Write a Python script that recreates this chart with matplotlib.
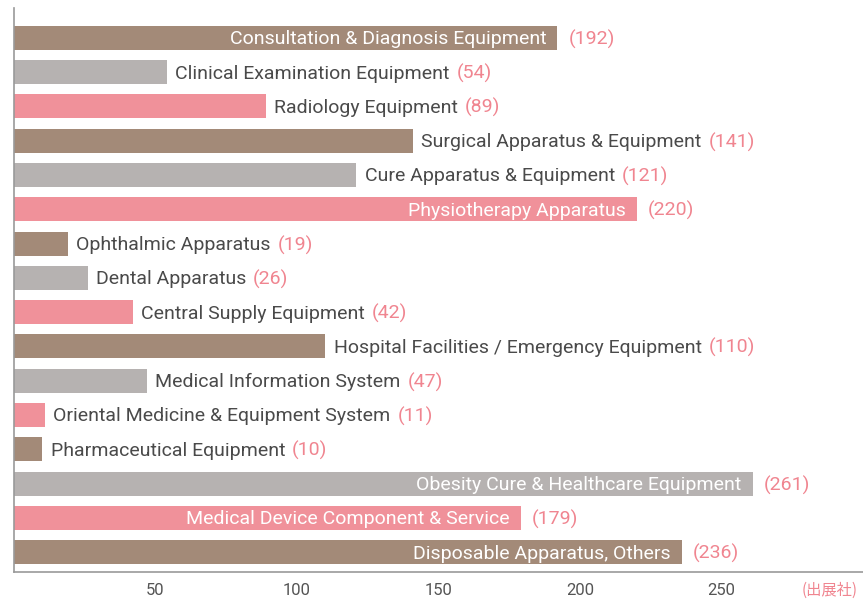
import matplotlib.pyplot as plt

categories = ['Consultation & Diagnosis Equipment', 'Clinical Examination Equipment',
              'Radiology Equipment', 'Surgical Apparatus & Equipment',
              'Cure Apparatus & Equipment', 'Physiotherapy Apparatus',
              'Ophthalmic Apparatus', 'Dental Apparatus', 'Central Supply Equipment',
              'Hospital Facilities / Emergency Equipment', 'Medical Information System',
              'Oriental Medicine & Equipment System', 'Pharmaceutical Equipment',
              'Obesity Cure & Healthcare Equipment', 'Medical Device Component & Service',
              'Disposable Apparatus, Others']
values = [192, 54, 89, 141, 121, 220, 19, 26, 42, 110, 47, 11, 10, 261, 179, 236]
# which labels sit inside their bar
inside = [True, False, False, False, False, True, False, False, False, False,
          False, False, False, True, True, True]
ticks = [50, 100, 150, 200, 250]

palette = ['#a38a78', '#b6b2b1', '#f0919a']
txt_col = '#4a4a4a'
val_col = '#f08590'
fs = 14

plt.rcParams['font.family'] = ['Roboto', 'DejaVu Sans']

fig = plt.figure(figsize=(8.63, 5.99), dpi=100)
ax = fig.add_axes([14 / 863, 27 / 599, 849 / 863, 564 / 599])

n = len(values)
ypos = list(range(n))
colors = [palette[i % 3] for i in range(n)]
ax.barh(ypos, values, height=0.7, color=colors)
ax.set_ylim(n - 1 + 0.58, -0.87)
ax.set_xlim(0, 300)
ax.set_xticks(ticks)
ax.set_xticklabels([str(t) for t in ticks], color='#555555', fontsize=12)
ax.tick_params(axis='x', length=0, pad=8)
ax.set_yticks([])
for s in ['top', 'right']:
    ax.spines[s].set_visible(False)
for s in ['left', 'bottom']:
    ax.spines[s].set_color('#999999')
    ax.spines[s].set_linewidth(1.2)

fig.canvas.draw()
rend = fig.canvas.get_renderer()
dy = -1
for i, (cat, v) in enumerate(zip(categories, values)):
    if inside[i]:
        ax.annotate(cat, (v, i), xytext=(-8, dy), textcoords='offset points',
                    ha='right', va='center', color='white', fontsize=fs)
        ax.annotate('(%d)' % v, (v, i), xytext=(8, dy), textcoords='offset points',
                    ha='left', va='center', color=val_col, fontsize=fs)
    else:
        t = ax.annotate(cat, (v, i), xytext=(6, dy), textcoords='offset points',
                        ha='left', va='center', color=txt_col, fontsize=fs)
        bb = t.get_window_extent(rend)
        x1 = ax.transData.inverted().transform((bb.x1, 0))[0]
        ax.annotate('(%d)' % v, (x1, i), xytext=(5, dy), textcoords='offset points',
                    ha='left', va='center', color=val_col, fontsize=fs)

fig.text(858 / 863, 9 / 599, '(出展社)', ha='right', va='center', color=val_col,
         fontsize=11, family=['Noto Sans CJK JP', 'DejaVu Sans'])

fig.savefig('out.png', dpi=100)
